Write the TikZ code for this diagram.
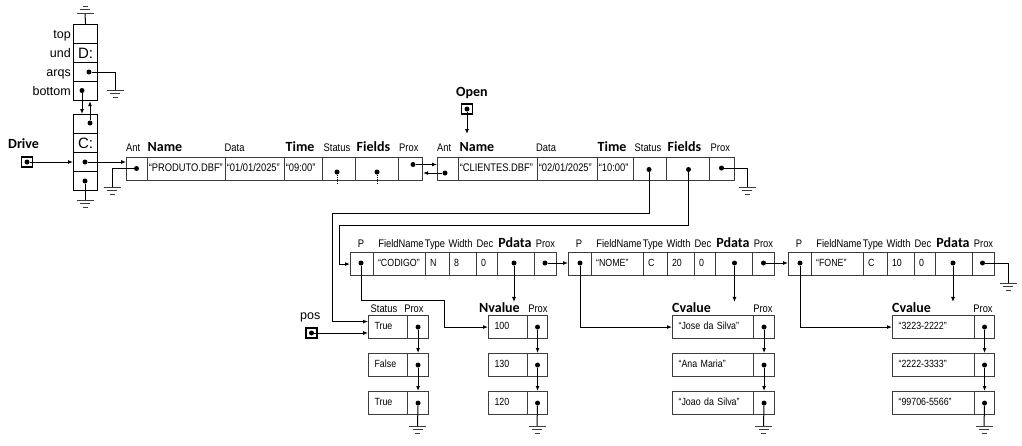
\documentclass[tikz,border=0pt]{standalone}
\usepackage{fontspec}
\setmainfont{Liberation Sans}
\newfontfamily\narr[FakeStretch=0.85]{Liberation Sans}
\newfontfamily\calib{Carlito}
\usepackage{tikz}
\usetikzlibrary{arrows.meta,positioning}
\definecolor{boxgray}{RGB}{60,60,60}

\begin{document}
\begin{tikzpicture}[x=1pt,y=-1pt,
      rc/.style={draw=boxgray,line width=1.1pt,anchor=north west,minimum height=23pt,
                 inner ysep=0pt,inner xsep=1.2pt,text width=#1pt-2.4pt,align=left,
                 text height=7pt,text depth=2pt,font=\narr\fontsize{11}{12}\selectfont},
      fc/.style={rc=#1,inner xsep=4.5pt,text width=#1pt-9pt,font=\narr\fontsize{10.4}{11}\selectfont},
      vc/.style={rc=#1,inner xsep=6pt,text width=#1pt-12pt,font=\narr\fontsize{10.4}{11}\selectfont},
      sb/.style={draw,line width=1.1pt,anchor=north west,minimum width=24pt,minimum height=19pt,
                 inner sep=0pt,font=\fontsize{15}{16}\selectfont},
      pb/.style={draw,line width=1.1pt,minimum width=11pt,minimum height=10pt,inner sep=0pt},
      dt/.style={circle,fill,inner sep=0pt,minimum size=5pt},
      sl/.style={anchor=base east,inner sep=0pt,font=\fontsize{12.5}{14}\selectfont},
      lb/.style={anchor=base west,inner sep=0pt,font=\narr\fontsize{11}{12}\selectfont},
      lbc/.style={lb,anchor=base},
      hb/.style={anchor=base west,inner sep=0pt,font=\calib\bfseries\fontsize{14}{16}\selectfont},
      ln/.style={line width=1pt},
      a/.style={ln,-{Latex[length=5pt,width=4pt]}},
      gnd/.pic={\draw[line width=1pt,boxgray] (-8.5,0) -- (8.5,0) (-5,3.7) -- (5,3.7) (-2.5,7.4) -- (2.5,7.4);}]
\useasboundingbox (0,0) rectangle (1022,445);

\node[sb] (sA1) at (73,24) {};
\node[sb] (sA2) at (73,43) {D:};
\node[sb] (sA3) at (73,62) {};
\node[sb] (sA4) at (73,81) {};
\node[sl] (tTop) at (71,38) {top};
\node[sl] (tUnd) at (71,57) {und};
\node[sl] (tArq) at (71,76) {arqs};
\node[sl] (tBot) at (71,95) {bottom};
\node[sb] (sB1) at (73,114) {};
\node[sb] (sB2) at (73,133) {C:};
\node[sb] (sB3) at (73,152) {};
\node[sb] (sB4) at (73,171) {};
\node[dt] (dA3) at (89,72) {};
\node[dt] (dA4) at (82,90.5) {};
\node[dt] (dB1) at (90,123) {};
\node[dt] (dB3) at (85,162) {};
\node[dt] (dB4) at (85,181) {};
\coordinate (gT) at (85,13.5);
\coordinate (gA) at (115,90);
\coordinate (gB) at (85,200);

\node[hb] (tDrv) at (8,148) {Drive};
\node[pb] (bDrv) at (27,162) {};
\node[dt] (dDrv) at (27,162) {};

\node[rc=21] (r1a) at (126,157) {};
\node[rc=78] (r1n) at (147,157) {“PRODUTO.DBF”};
\node[rc=59] (r1d) at (225,157) {“01/01/2025”};
\node[rc=38] (r1t) at (284,157) {“09:00”};
\node[rc=33] (r1s) at (322,157) {};
\node[rc=43] (r1f) at (355,157) {};
\node[rc=24] (r1p) at (398,157) {};
\node[lb] (l1a) at (126,151.5) {Ant};
\node[hb] (l1n) at (147.5,151.5) {Name};
\node[lb] (l1d) at (224.5,151.5) {Data};
\node[hb] (l1t) at (285.5,151.5) {Time};
\node[lb] (l1s) at (323.5,151.5) {Status};
\node[hb] (l1f) at (356.5,151.5) {Fields};
\node[lb] (l1p) at (399,151.5) {Prox};
\node[dt] (d1a) at (136.5,168.5) {};
\node[dt] (d1s) at (337,172) {};
\node[dt] (d1f) at (377,172) {};
\node[dt] (d1p) at (413,164.5) {};
\coordinate (gC) at (112,187);

\node[hb] (tOpen) at (456,96.5) {Open};
\node[pb] (bOpen) at (467,109) {};
\node[dt] (dOpen) at (467,109) {};
\coordinate (oEnd) at (467,134);

\node[rc=21] (r2a) at (437,157) {};
\node[rc=79] (r2n) at (458,157) {“CLIENTES.DBF”};
\node[rc=60] (r2d) at (537,157) {“02/01/2025”};
\node[rc=36] (r2t) at (597,157) {“10:00”};
\node[rc=33] (r2s) at (633,157) {};
\node[rc=43] (r2f) at (666,157) {};
\node[rc=25] (r2p) at (709,157) {};
\node[lb] (l2a) at (437,151.5) {Ant};
\node[hb] (l2n) at (459.5,151.5) {Name};
\node[lb] (l2d) at (536,151.5) {Data};
\node[hb] (l2t) at (597.5,151.5) {Time};
\node[lb] (l2s) at (634.5,151.5) {Status};
\node[hb] (l2f) at (667.5,151.5) {Fields};
\node[lb] (l2p) at (710.5,151.5) {Prox};
\node[dt] (d2a) at (445,173) {};
\node[dt] (d2s) at (649,169.5) {};
\node[dt] (d2f) at (688.5,169.5) {};
\node[dt] (d2p) at (721.5,168) {};
\coordinate (gR) at (747,187);
\coordinate (k1) at (332,213);
\coordinate (k2) at (339,225);

\node[fc=23] (fP1) at (350,252) {};
\node[fc=52] (fN1) at (373,252) {“CODIGO”};
\node[fc=24] (fT1) at (425,252) {N};
\node[fc=27] (fW1) at (449,252) {8};
\node[fc=21] (fD1) at (476,252) {0};
\node[fc=37] (fV1) at (497,252) {};
\node[fc=22] (fX1) at (534,252) {};
\node[lbc] (p1) at (361,247.5) {P};
\node[lbc] (n1) at (401,247.5) {FieldName};
\node[lbc] (t1) at (435,247.5) {Type};
\node[lbc] (w1) at (460.5,247.5) {Width};
\node[lbc] (e1) at (485,247.5) {Dec};
\node[hb,anchor=base] (v1) at (515,247.5) {Pdata};
\node[lbc] (x1) at (545.5,247.5) {Prox};
\node[dt] (dp1) at (361,263) {};
\node[dt] (dd1) at (514,263) {};
\node[dt] (dx1) at (545,263) {};
\coordinate (k3) at (444,300);

\node[fc=23] (fP2) at (568,252) {};
\node[fc=52] (fN2) at (591,252) {“NOME”};
\node[fc=24] (fT2) at (643,252) {C};
\node[fc=27] (fW2) at (667,252) {20};
\node[fc=21] (fD2) at (694,252) {0};
\node[fc=37] (fV2) at (715,252) {};
\node[fc=22] (fX2) at (752,252) {};
\node[lbc] (p2) at (579,247.5) {P};
\node[lbc] (n2) at (619,247.5) {FieldName};
\node[lbc] (t2) at (653,247.5) {Type};
\node[lbc] (w2) at (678.5,247.5) {Width};
\node[lbc] (e2) at (703,247.5) {Dec};
\node[hb,anchor=base] (v2) at (733,247.5) {Pdata};
\node[lbc] (x2) at (763.5,247.5) {Prox};
\node[dt] (dp2) at (580,263) {};
\node[dt] (dd2) at (734.5,263) {};
\node[dt] (dx2) at (763.5,263) {};

\node[fc=23] (fP3) at (788,252) {};
\node[fc=52] (fN3) at (811,252) {“FONE”};
\node[fc=24] (fT3) at (863,252) {C};
\node[fc=27] (fW3) at (887,252) {10};
\node[fc=21] (fD3) at (914,252) {0};
\node[fc=37] (fV3) at (935,252) {};
\node[fc=22] (fX3) at (972,252) {};
\node[lbc] (p3) at (799,247.5) {P};
\node[lbc] (n3) at (839,247.5) {FieldName};
\node[lbc] (t3) at (873,247.5) {Type};
\node[lbc] (w3) at (898.5,247.5) {Width};
\node[lbc] (e3) at (923,247.5) {Dec};
\node[hb,anchor=base] (v3) at (953,247.5) {Pdata};
\node[lbc] (x3) at (983.5,247.5) {Prox};
\node[dt] (dp3) at (800,263) {};
\node[dt] (dd3) at (953,263) {};
\node[dt] (dx3) at (982.5,263) {};
\coordinate (gF) at (1008,283);

\node[anchor=base west,inner sep=0pt,font=\fontsize{12.5}{14}\selectfont] (tPos) at (300,319) {pos};
\node[pb] (bPos) at (311.5,333) {};
\node[dt] (dPos) at (311.5,333) {};

\node[lb] (hS) at (370.5,312) {Status};
\node[lbc] (hSp) at (414,312) {Prox};
\node[vc=39] (va1) at (368,315) {True};
\node[vc=21] (vb1) at (407,315) {};
\node[vc=39] (va2) at (368,353) {False};
\node[vc=21] (vb2) at (407,353) {};
\node[vc=39] (va3) at (368,391) {True};
\node[vc=21] (vb3) at (407,391) {};
\node[dt] (dv1) at (vb1.center) {};
\node[dt] (dv2) at (vb2.center) {};
\node[dt] (dv3) at (vb3.center) {};
\coordinate (gV) at (417.5,426);

\node[hb] (hN) at (479,312) {Nvalue};
\node[lbc] (hNp) at (538,312) {Prox};
\node[vc=39] (na1) at (488,315) {100};
\node[vc=20] (nb1) at (527,315) {};
\node[vc=39] (na2) at (488,353) {130};
\node[vc=20] (nb2) at (527,353) {};
\node[vc=39] (na3) at (488,391) {120};
\node[vc=20] (nb3) at (527,391) {};
\node[dt] (dn1) at (nb1.center) {};
\node[dt] (dn2) at (nb2.center) {};
\node[dt] (dn3) at (nb3.center) {};
\coordinate (gN) at (537,426);

\node[hb] (hC1) at (672,312) {Cvalue};
\node[lbc] (hC1p) at (763,312) {Prox};
\node[vc=81] (ca1) at (672,315) {“Jose da Silva”};
\node[vc=21] (cb1) at (753,315) {};
\node[vc=81] (ca2) at (672,353) {“Ana Maria”};
\node[vc=21] (cb2) at (753,353) {};
\node[vc=81] (ca3) at (672,391) {“Joao da Silva”};
\node[vc=21] (cb3) at (753,391) {};
\node[dt] (dc1) at (cb1.center) {};
\node[dt] (dc2) at (cb2.center) {};
\node[dt] (dc3) at (cb3.center) {};
\coordinate (gCv) at (763.5,426);

\node[hb] (hC2) at (892,312) {Cvalue};
\node[lbc] (hC2p) at (983,312) {Prox};
\node[vc=82] (ea1) at (892,315) {“3223-2222”};
\node[vc=20] (eb1) at (974,315) {};
\node[vc=82] (ea2) at (892,353) {“2222-3333”};
\node[vc=20] (eb2) at (974,353) {};
\node[vc=82] (ea3) at (892,391) {“99706-5566”};
\node[vc=20] (eb3) at (974,391) {};
\node[dt] (de1) at (eb1.center) {};
\node[dt] (de2) at (eb2.center) {};
\node[dt] (de3) at (eb3.center) {};
\coordinate (gE) at (984,426);

\draw[ln] (sA1.north) -- (gT);
\draw[ln] (dA3) -| (gA);
\draw[a] (dA4) -- (dA4 |- sB1.north);
\draw[a] (dB1) -- (dB1 |- sA4.south);
\draw[a] (dDrv) -- (dDrv -| sB3.west);
\draw[a] (dB3) -- (dB3 -| r1a.west);
\draw[ln] (dB4) -- (gB);
\draw[ln] (d1a) -| (gC);
\draw[ln,densely dotted] (d1s) -- (d1s |- r1s.south) -- ++(0,3);
\draw[ln,densely dotted] (d1f) -- (d1f |- r1f.south) -- ++(0,3);
\draw[a] (d1p) -- (d1p -| r2a.west);
\draw[a] (d2a) -- (d2a -| r1p.east);
\draw[ln] (d2p) -| (gR);
\draw[a] (dOpen) -- (oEnd);
\draw[a] (d2s) |- (k1) |- ([yshift=5.5pt]va1.west);
\draw[a] (d2f) |- (k2) |- (fP1.west);
\draw[a] (dPos) -- (dPos -| va1.west);
\draw[a] (dx1) -- (dx1 -| fP2.west);
\draw[a] (dx2) -- (dx2 -| fP3.west);
\draw[ln] (dx3) -| (gF);
\draw[a] (dp1) |- (k3) |- (na1.west);
\draw[a] (dp2) |- (ca1.west);
\draw[a] (dp3) |- (ea1.west);
\draw[a] (dd1) -- (dd1 |- hN.north);
\draw[a] (dd2) -- (dd2 |- hC1.north);
\draw[a] (dd3) -- (dd3 |- hC2.north);
\draw[a] (dv1) -- (dv1 |- vb2.north);
\draw[a] (dv2) -- (dv2 |- vb3.north);
\draw[ln] (dv3) -- (gV);
\draw[a] (dn1) -- (dn1 |- nb2.north);
\draw[a] (dn2) -- (dn2 |- nb3.north);
\draw[ln] (dn3) -- (gN);
\draw[a] (dc1) -- (dc1 |- cb2.north);
\draw[a] (dc2) -- (dc2 |- cb3.north);
\draw[ln] (dc3) -- (gCv);
\draw[a] (de1) -- (de1 |- eb2.north);
\draw[a] (de2) -- (de2 |- eb3.north);
\draw[ln] (de3) -- (gE);

\pic[yscale=-1] at (gT) {gnd};
\pic at (gA) {gnd};
\pic at (gB) {gnd};
\pic at (gC) {gnd};
\pic at (gR) {gnd};
\pic at (gF) {gnd};
\pic at (gV) {gnd};
\pic at (gN) {gnd};
\pic at (gCv) {gnd};
\pic at (gE) {gnd};
\end{tikzpicture}
\end{document}
